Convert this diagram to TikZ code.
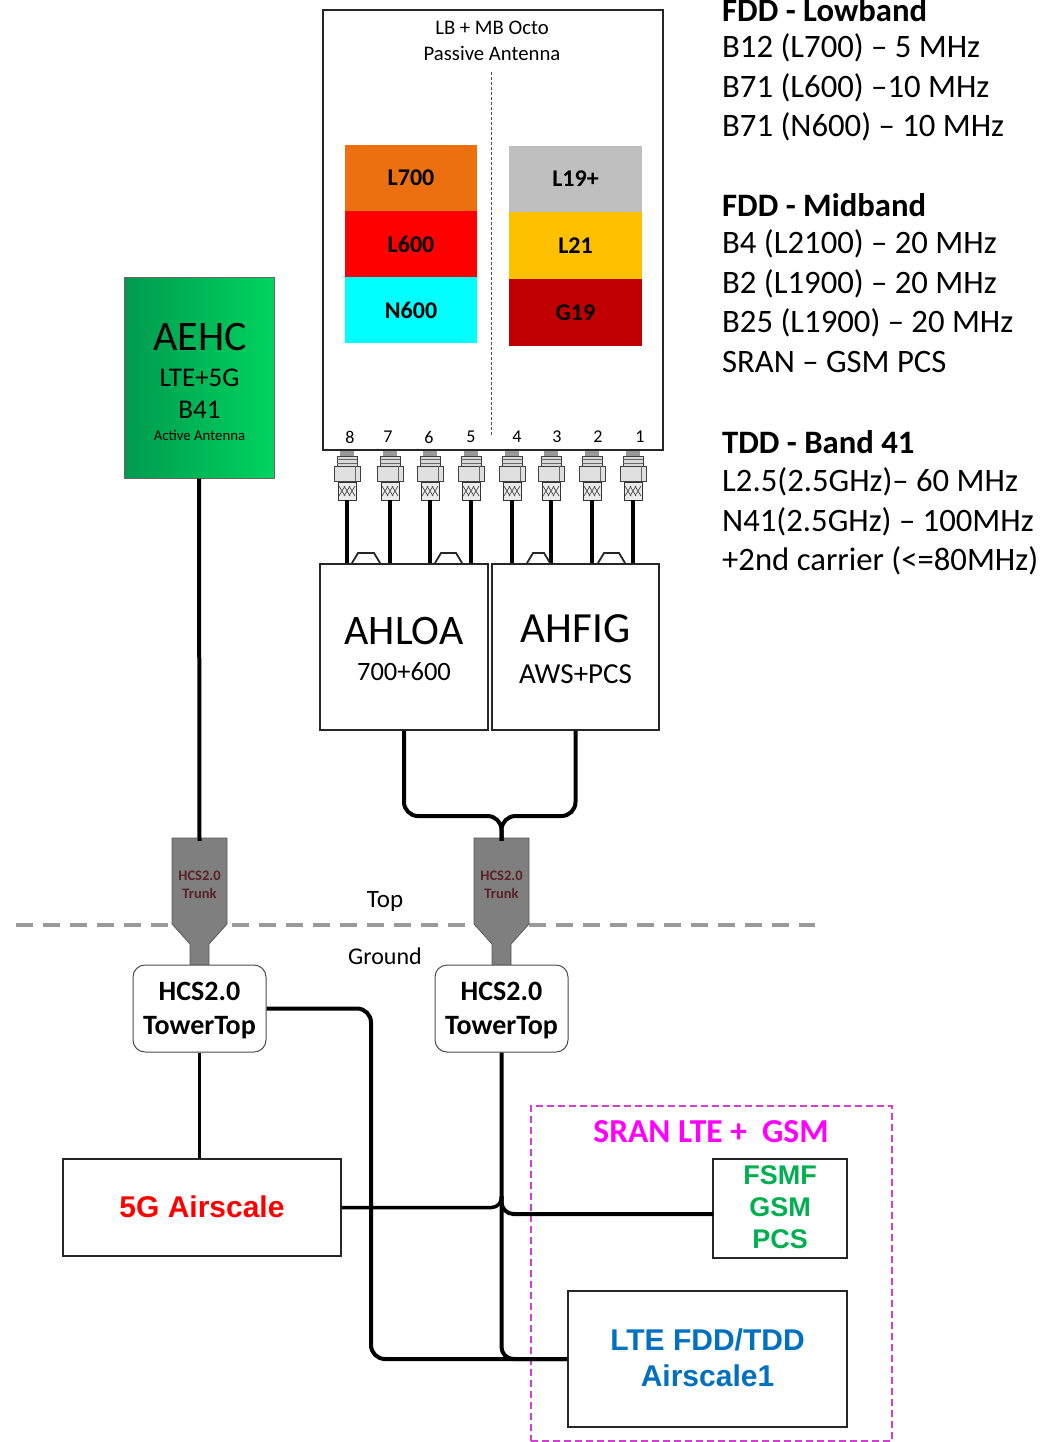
\documentclass[tikz,border=0pt]{standalone}
\usepackage{fontspec}
\setmainfont{Carlito}
\newfontfamily\arialfont{Liberation Sans}
\usetikzlibrary{positioning,calc}
\definecolor{bandorange}{HTML}{ED7010}
\definecolor{bandred}{HTML}{FF0000}
\definecolor{bandcyan}{HTML}{00FFFF}
\definecolor{bandgray}{HTML}{BFBFBF}
\definecolor{bandyellow}{HTML}{FFC000}
\definecolor{banddark}{HTML}{C00000}
\definecolor{aehcdark}{HTML}{009A4E}
\definecolor{aehclight}{HTML}{00D45F}
\definecolor{trunkgray}{HTML}{7F7F7F}
\definecolor{trunktext}{HTML}{5A2226}
\definecolor{groundgray}{HTML}{9A9A9A}
\definecolor{sranline}{HTML}{D43CD4}
\definecolor{srantext}{HTML}{FF00FF}
\definecolor{lteblue}{HTML}{0070C0}
\definecolor{fsmfgreen}{HTML}{00B050}
\definecolor{alertred}{HTML}{FF0000}
\newcommand{\fs}[2]{\fontsize{#1}{#2}\selectfont}
\tikzset{
  unitbox/.style={draw=black!85, line width=1.8pt, fill=white, inner sep=0pt, align=center},
  bandbox/.style={minimum width=132pt, inner sep=0pt, font=\fs{24}{26}\bfseries},
  towerbox/.style={draw=black!70, line width=1pt, fill=white, rounded corners=12pt, minimum width=133pt, minimum height=87pt, inner sep=0pt},
  towertext/.style={inner sep=0pt, align=center, font=\fs{28}{34}\bfseries},
  trunknode/.style={minimum width=55pt, minimum height=88pt, inner sep=0pt, align=center, text=trunktext, font=\fs{14.5}{18}\bfseries},
  cable/.style={black, line width=4pt},
  speclabel/.style={anchor=west, inner sep=0pt, font=\fs{32.7}{36}},
  spechead/.style={anchor=west, inner sep=0pt, font=\fs{32.7}{36}\bfseries},
  portnum/.style={inner sep=0pt, font=\fs{18}{20}}
}
\begin{document}
\begin{tikzpicture}[x=1pt,y=-1pt]
  \useasboundingbox (0,0) rectangle (1052,1442);
  % antenna
  \node[draw=black!85, line width=2pt, minimum width=340pt, minimum height=440pt, inner sep=0pt] (antenna) at (493,230) {};
  \node[align=center, inner sep=0pt, font=\fs{20.7}{25.5}] (antlabel) at (492,41) {LB + MB Octo\\Passive Antenna};
  \draw[black!70, line width=0.9pt, dash pattern=on 3pt off 2pt] (491.5,72) -- (491.5,435);
  \node[bandbox, minimum height=66pt, fill=bandorange] (lseven) at (411,178) {L700};
  \node[bandbox, minimum height=66pt, fill=bandred] (lsix) at (411,244) {L600};
  \node[bandbox, minimum height=66pt, fill=bandcyan] (nsix) at (411,310) {N600};
  \node[bandbox, minimum width=133pt, minimum height=66pt, fill=bandgray] (lnineteen) at (575.5,179) {L19+};
  \node[bandbox, minimum width=133pt, minimum height=67pt, fill=bandyellow] (ltwentyone) at (575.5,245.5) {L21};
  \node[bandbox, minimum width=133pt, minimum height=67pt, fill=banddark] (gnineteen) at (575.5,312.5) {G19};
  % active antenna
  \node[draw=black!60, line width=1pt, left color=aehcdark, right color=aehclight, minimum width=150pt, minimum height=201pt, inner sep=0pt] (aehc) at (199,377.5) {};
  \node[inner sep=0pt, font=\fs{42}{44}] (aehcname) at (200,337) {AEHC};
  \node[inner sep=0pt, font=\fs{27}{30}] (aehcband) at (199.5,378) {LTE+5G};
  \node[inner sep=0pt, font=\fs{27}{30}] (aehcbfl) at (199.5,410) {B41};
  \node[inner sep=0pt, font=\fs{14.8}{16}] (aehcnote) at (199.5,435) {Active Antenna};
  % radios
  \node[unitbox, minimum width=168pt, minimum height=166pt] (ahloa) at (404,647) {};
  \node[unitbox, minimum width=167pt, minimum height=166pt] (ahfig) at (575.5,647) {};
  \node[inner sep=0pt, font=\fs{42}{44}] (ahloaname) at (404,631) {AHLOA};
  \node[inner sep=0pt, font=\fs{26.5}{28}] (ahloaband) at (404,672) {700+600};
  \node[inner sep=0pt, font=\fs{43}{46}] (ahfigname) at (575.5,629) {AHFIG};
  \node[inner sep=0pt, font=\fs{29}{31}] (ahfigband) at (575.5,674) {AWS+PCS};
  % ports
  \foreach \n/\x/\lx/\target in {8/347/350/ahloa,7/390/388/ahloa,6/430/429/ahloa,5/471/471/ahloa,4/512/517/ahfig,3/551/557/ahfig,2/592/598/ahfig,1/633/640/ahfig}{
    \node[portnum] (num\n) at (\lx,437) {\n};
    \node[minimum width=26pt, minimum height=49pt, inner sep=0pt] (port\n) at (\x,475.5) {};
    \begin{scope}[shift={(\x,0)}]
      \fill[black!40] (-7,451) rectangle (7,456);
      \draw[black!75, fill=black!15, line width=0.8pt] (-10,456) rectangle (10,467);
      \draw[black!60, line width=0.8pt] (-10,459.5) -- (10,459.5) (-10,463) -- (10,463);
      \draw[black!75, fill=black!12, line width=0.8pt] (-13,466) rectangle (13,481);
      \draw[black!60, line width=0.8pt] (8,466) -- (8,481);
      \draw[black!80, line width=1pt, fill=black!8] (-9,482) rectangle (9,500);
      \foreach \d in {-8,-3,2}{
        \draw[black!70, line width=0.7pt] (\d,486) -- (\d+6,496) (\d+6,486) -- (\d,496);
      }
    \end{scope}
    \draw[cable] (port\n.south) -- (port\n.south |- \target.north);
  }
  % jumpers
  \foreach \a/\b in {352/380,435/462,527/550,598/625}{
    \draw[black!85, line width=1.8pt] (\a,563) -- (\a+6,553) -- (\b-6,553) -- (\b,563);
  }
  % top and ground
  \draw[groundgray, line width=4pt, dash pattern=on 17pt off 10pt] (16,925) -- (815,925);
  \node[inner sep=0pt, font=\fs{25}{27}] (toplabel) at (385,901) {Top};
  \node[inner sep=0pt, font=\fs{24}{26}] (groundlabel) at (385,956) {Ground};
  % trunks and tower tops
  \foreach \n/\x in {a/199.5,b/501.5}{
    \draw[black!65, fill=trunkgray, line width=0.8pt] (\x-27.5,838) -- (\x+27.5,838) -- (\x+27.5,924) -- (\x+9.5,944) -- (\x+9.5,966) -- (\x-9.5,966) -- (\x-9.5,944) -- (\x-27.5,924) -- cycle;
    \node[trunknode] (trunk\n) at (\x,885) {HCS2.0\\Trunk};
    \node[towerbox] (tower\n) at (\x,1008.5) {};
    \node[towertext] (towertext\n) at (\x,1011) {HCS2.0\\TowerTop};
  }
  % baseband
  \node[unitbox, minimum width=278pt, minimum height=97pt, text=alertred, font=\arialfont\fs{30}{32}\bfseries] (airscale) at (202,1207.5) {};
  \node[inner sep=0pt, text=alertred, font=\arialfont\fs{30}{32}\bfseries] (airscaletext) at (202,1206.5) {5G Airscale};
  \node[draw=sranline, line width=1.5pt, dash pattern=on 7pt off 4pt, minimum width=361pt, minimum height=335pt, inner sep=0pt] (sran) at (711.5,1273.5) {};
  \node[inner sep=0pt, text=srantext, font=\fs{33.5}{36}\bfseries] (sranlabel) at (711,1132) {SRAN LTE +\ \ GSM};
  \node[unitbox, minimum width=134pt, minimum height=99pt] (fsmf) at (780,1208.5) {};
  \node[inner sep=0pt, align=center, text=fsmfgreen, font=\arialfont\fs{27}{32}\bfseries] (fsmftext) at (780,1207.5) {FSMF\\GSM\\PCS};
  \node[unitbox, minimum width=279pt, minimum height=136pt] (lte) at (707.5,1359) {};
  \node[inner sep=0pt, align=center, text=lteblue, font=\arialfont\fs{30}{36.5}\bfseries] (ltetext) at (707.5,1358) {LTE FDD/TDD\\Airscale1};
  \coordinate (fsmfin) at (713,1214);
  \coordinate (towersplit) at (501.5,1196);
  % connectors
  \draw[cable] (aehc.south) -- (trunka.north);
  \draw[cable, line width=3.5pt] (towera.south) -- (towera.south |- airscale.north);
  \draw[cable, rounded corners=14pt] (ahloa.south) |- (trunkb.north |- 0,816) -- (trunkb.north);
  \draw[cable, rounded corners=14pt] (ahfig.south) |- (trunkb.north |- 0,816) -- (trunkb.north);
  \draw[cable, rounded corners=14pt] (towera.east) -| (371,1359) -- (lte.west);
  \draw[cable, rounded corners=12pt] (towerb.south) |- (lte.west);
  \draw[cable, line width=3.5pt, rounded corners=10pt] (airscale.east) -| (towersplit);
  \draw[cable, rounded corners=12pt] (towersplit) |- (fsmfin);
  % spec lists
  \foreach \n/\y/\t in {a/10/{FDD - Lowband},b/205/{FDD - Midband},c/442/{TDD - Band 41}}{
    \node[spechead] (head\n) at (722,\y) {\t};
  }
  \foreach \n/\y/\t in {a/48/{B12 (L700) – 5 MHz},b/88/{B71 (L600) –10 MHz},c/127/{B71 (N600) – 10 MHz},d/244/{B4 (L2100) – 20 MHz},e/284/{B2 (L1900) – 20 MHz},f/323/{B25 (L1900) – 20 MHz},g/362/{SRAN – GSM PCS},h/482/{L2.5(2.5GHz)– 60 MHz},i/522/{N41(2.5GHz) – 100MHz},j/561/{+2nd carrier (<=80MHz)}}{
    \node[speclabel] (spec\n) at (722,\y) {\t};
  }
\end{tikzpicture}
\end{document}
